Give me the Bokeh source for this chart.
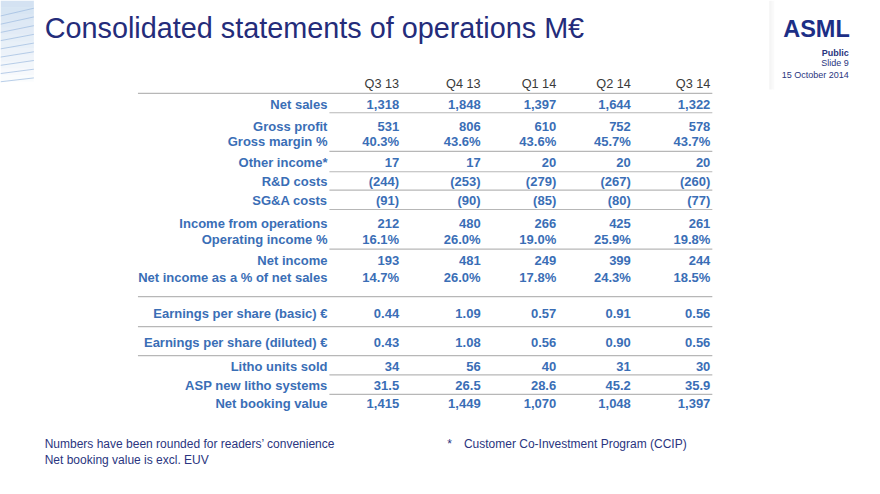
from bokeh.plotting import figure
from bokeh.models import Range1d, ColumnDataSource
from bokeh.core.properties import value
from bokeh.embed import file_html
from bokeh.resources import INLINE

# ---------------- data ----------------
quarters = ["Q3 13", "Q4 13", "Q1 14", "Q2 14", "Q3 14"]

net_sales = [1318, 1848, 1397, 1644, 1322]
gross_profit = [531, 806, 610, 752, 578]
gross_margin_pct = [40.3, 43.6, 43.6, 45.7, 43.7]
other_income = [17, 17, 20, 20, 20]
rd_costs = [-244, -253, -279, -267, -260]
sga_costs = [-91, -90, -85, -80, -77]
income_from_operations = [212, 480, 266, 425, 261]
operating_income_pct = [16.1, 26.0, 19.0, 25.9, 19.8]
net_income = [193, 481, 249, 399, 244]
net_income_pct = [14.7, 26.0, 17.8, 24.3, 18.5]
eps_basic = [0.44, 1.09, 0.57, 0.91, 0.56]
eps_diluted = [0.43, 1.08, 0.56, 0.90, 0.56]
litho_units_sold = [34, 56, 40, 31, 30]
asp_new_litho = [31.5, 26.5, 28.6, 45.2, 35.9]
net_booking_value = [1415, 1449, 1070, 1048, 1397]

row_labels = [
    "Net sales", "Gross profit", "Gross margin %", "Other income*",
    "R&D costs", "SG&A costs", "Income from operations",
    "Operating income %", "Net income", "Net income as a % of net sales",
    "Earnings per share (basic) \u20ac", "Earnings per share (diluted) \u20ac",
    "Litho units sold", "ASP new litho systems", "Net booking value",
]


def fmt_int(v):
    s = f"{abs(v):,}"
    return f"({s})" if v < 0 else s


def fmt_pct(v):
    return f"{v:.1f}%"


def fmt_2(v):
    return f"{v:.2f}"


def fmt_1(v):
    return f"{v:.1f}"


rows = [
    (net_sales, fmt_int), (gross_profit, fmt_int), (gross_margin_pct, fmt_pct),
    (other_income, fmt_int), (rd_costs, fmt_int), (sga_costs, fmt_int),
    (income_from_operations, fmt_int), (operating_income_pct, fmt_pct),
    (net_income, fmt_int), (net_income_pct, fmt_pct),
    (eps_basic, fmt_2), (eps_diluted, fmt_2),
    (litho_units_sold, fmt_int), (asp_new_litho, fmt_1), (net_booking_value, fmt_int),
]

# ---------------- layout (slide coordinates, 880 x 494) ----------------
row_y = [107, 130, 146, 167, 187, 207, 230, 247, 269, 286, 323, 353, 378, 398, 417]
col_x = [406, 489, 566, 642, 723]
label_x = 333
header_y = 86

# separator lines: (y, x_start)
seps = [(96, 140), (116, 335), (156, 335), (177, 335), (196, 335), (216, 335),
        (257, 335), (306, 140), (337, 140), (367, 140), (387, 335), (407, 335)]
line_end = 725

BLUE = "#3a6eb6"
NAVY = "#242c7a"
FONT = "Liberation Sans"

p = figure(width=864, height=478, output_backend="svg", toolbar_location=None,
           x_range=Range1d(0, 880), y_range=Range1d(494, 0),
           min_border=0, outline_line_color=None, background_fill_color="white",
           border_fill_color="white")
p.axis.visible = False
p.xgrid.visible = False
p.ygrid.visible = False

# top-left decoration
for i in range(12):
    a = 0.30 - i * 0.024
    p.quad(left=0, right=34, top=i * 7, bottom=(i + 1) * 7,
           fill_color="#6f9fd3", fill_alpha=max(a, 0.02), line_color=None)
for i in range(9):
    y0 = 8 + i * 9
    p.segment(x0=0, y0=y0 + 8 - i * 0.5, x1=34, y1=y0, line_color="#9dbbe0",
              line_alpha=0.7, line_width=1)

# right shadow band
for i in range(6):
    p.quad(left=783 + i, right=784 + i, top=0, bottom=92,
           fill_color="#9a9a9a", fill_alpha=0.10 - i * 0.015, line_color=None)

# title
p.text(x=[45], y=[28], text=["Consolidated statements of operations M\u20ac"],
       text_font=value(FONT), text_font_size="28.8px", text_color=NAVY,
       text_baseline="middle", text_align="left")

# logo and meta
p.text(x=[865], y=[29], text=["ASML"], text_font=value(FONT), text_font_size="23.5px",
       text_font_style="bold", text_color="#1d2f86", text_baseline="middle", text_align="right")
p.text(x=[864], y=[54], text=["Public"], text_font=value(FONT), text_font_size="9px",
       text_font_style="bold", text_color="#2a3580", text_baseline="middle", text_align="right")
p.text(x=[864, 864], y=[65, 77], text=["Slide 9", "15 October 2014"],
       text_font=value(FONT), text_font_size="9px",
       text_color="#2a3580", text_baseline="middle", text_align="right")

# separators
src_lines = ColumnDataSource(dict(x0=[s[1] for s in seps], x1=[line_end] * len(seps),
                                  y=[s[0] for s in seps]))
p.segment(x0="x0", y0="y", x1="x1", y1="y", source=src_lines,
          line_color="#b7b7b7", line_width=1.2)

# header
p.text(x=col_x, y=[header_y] * len(quarters), text=quarters, text_font=value(FONT),
       text_font_size="12.7px", text_color="#3a3a3a", text_baseline="middle",
       text_align="right")

# row labels
p.text(x=[label_x] * len(row_labels), y=row_y, text=row_labels, text_font=value(FONT),
       text_font_size="13px", text_font_style="bold", text_color=BLUE,
       text_baseline="middle", text_align="right")

# values
xs, ys, ts = [], [], []
for (vals, f), y in zip(rows, row_y):
    for v, x in zip(vals, col_x):
        xs.append(x)
        ys.append(y)
        ts.append(f(v))
p.text(x=xs, y=ys, text=ts, text_font=value(FONT), text_font_size="13px",
       text_font_style="bold", text_color=BLUE, text_baseline="middle", text_align="right")

# footnotes
p.text(x=[45, 45], y=[458, 475],
       text=["Numbers have been rounded for readers\u2019 convenience",
             "Net booking value is excl. EUV"],
       text_font=value(FONT), text_font_size="12px", text_color="#2a3580",
       text_baseline="middle", text_align="left")
p.text(x=[455, 472], y=[458, 458], text=["*", "Customer Co-Investment Program (CCIP)"],
       text_font=value(FONT), text_font_size="12px", text_color="#2a3580",
       text_baseline="middle", text_align="left")

open("out.html", "w").write(file_html(p, INLINE))
